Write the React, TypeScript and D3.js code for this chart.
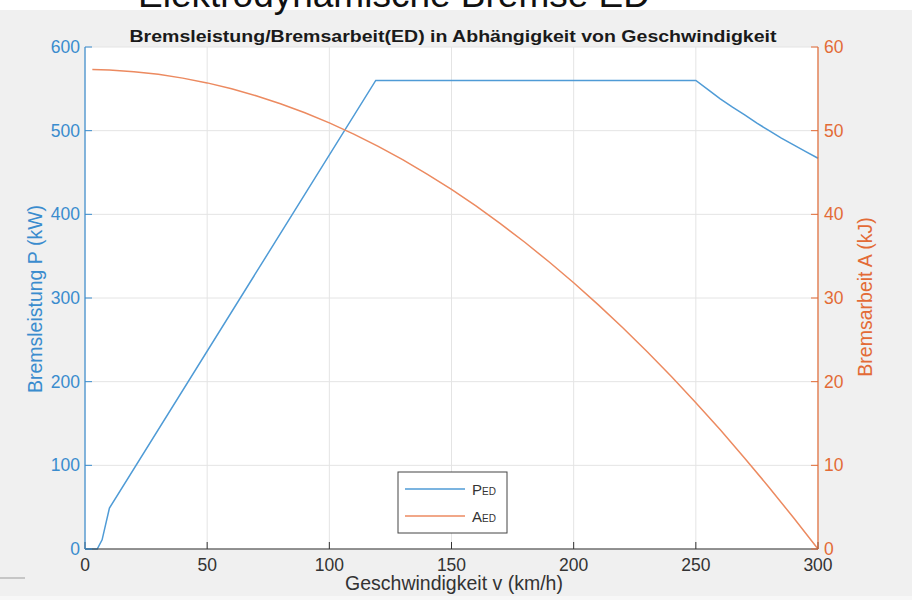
import React from "react";
import * as d3 from "d3";

const xTicks = [0, 50, 100, 150, 200, 250, 300];
const yLeftTicks = [0, 100, 200, 300, 400, 500, 600];
const yRightTicks = [0, 10, 20, 30, 40, 50, 60];

// P_ED (kW) vs speed (km/h)
const pSpeed = [0, 5, 7, 10, 119, 250, 255, 260, 265, 270, 275, 280, 285, 290, 295, 300];
const pValues = [0, 0, 11, 49, 560, 560, 549, 538, 528, 519, 509, 500, 491, 483, 475, 467];

// A_ED (kJ) vs speed (km/h)
const aSpeed = [3, 10, 20, 30, 40, 50, 60, 70, 80, 90, 100, 110, 120, 130, 140, 150, 160, 170, 180, 190, 200, 210, 220, 230, 240, 250, 260, 270, 280, 290, 300];
const aValues = [57.3, 57.24, 57.05, 56.73, 56.28, 55.71, 55.01, 54.18, 53.22, 52.14, 50.93, 49.59, 48.13, 46.53, 44.81, 42.97, 41.0, 38.89, 36.66, 34.3, 31.82, 29.21, 26.47, 23.6, 20.61, 17.49, 14.24, 10.86, 7.36, 3.73, 0];

const title = "Bremsleistung/Bremsarbeit(ED) in Abhängigkeit von Geschwindigkeit";
const suptitle = "Elektrodynamische Bremse ED";
const xLabel = "Geschwindigkeit v (km/h)";
const yLeftLabel = "Bremsleistung P (kW)";
const yRightLabel = "Bremsarbeit A (kJ)";

const W = 912, H = 600;
const L = 85, R = 818, T = 47, B = 549;
const BLUE_AX = "#3a8cce";
const BLUE_LN = "#4f9bd6";
const ORANGE_AX = "#e36b36";
const ORANGE_LN = "#ec8a60";
const DARK = "#333333";
const FONT = "'Liberation Sans', Arial, sans-serif";

export default function App() {
  const x = d3.scaleLinear().domain([0, 300]).range([L, R]);
  const yl = d3.scaleLinear().domain([0, 600]).range([B, T]);
  const yr = d3.scaleLinear().domain([0, 60]).range([B, T]);

  const pLine = d3.line<number>().x((_, i) => x(pSpeed[i])).y((d) => yl(d));
  const aLine = d3.line<number>().x((_, i) => x(aSpeed[i])).y((d) => yr(d));

  return (
    <svg width={W} height={H} style={{ position: "absolute", left: 0, top: 0 }} fontFamily={FONT}>
      <rect x={0} y={0} width={W} height={H} fill="#f0f0f0" />
      <rect x={0} y={0} width={W} height={10} fill="#ffffff" />
      <rect x={0} y={596} width={W} height={4} fill="#f7f7f7" />
      <text x={394} y={7} fontSize={37} textAnchor="middle" fill="#111">{suptitle}</text>
      <line x1={0} x2={25} y1={578} y2={578} stroke="#b8b8b8" strokeWidth={1.5} />

      <rect x={L} y={T} width={R - L} height={B - T} fill="#ffffff" />
      {/* grid */}
      {xTicks.map((t) => (
        <line key={"gx" + t} x1={x(t)} x2={x(t)} y1={T} y2={B} stroke="#e4e4e4" strokeWidth={1} />
      ))}
      {yLeftTicks.map((t) => (
        <line key={"gy" + t} x1={L} x2={R} y1={yl(t)} y2={yl(t)} stroke="#e4e4e4" strokeWidth={1} />
      ))}

      {/* lines */}
      <path d={pLine(pValues) || ""} fill="none" stroke={BLUE_LN} strokeWidth={1.5} />
      <path d={aLine(aValues) || ""} fill="none" stroke={ORANGE_LN} strokeWidth={1.5} />

      {/* bottom axis */}
      <line x1={L} x2={R} y1={B} y2={B} stroke={DARK} strokeWidth={1.2} />
      {xTicks.map((t) => (
        <g key={"xt" + t}>
          <line x1={x(t)} x2={x(t)} y1={B} y2={B - 7} stroke={DARK} strokeWidth={1} />
          <text x={x(t)} y={571} fontSize={17.5} textAnchor="middle" fill={DARK}>{t}</text>
        </g>
      ))}
      <text x={454} y={590} fontSize={19.5} textAnchor="middle" fill={DARK}>{xLabel}</text>

      {/* left axis */}
      <line x1={L} x2={L} y1={T} y2={B} stroke={BLUE_AX} strokeWidth={1.2} />
      {yLeftTicks.map((t) => (
        <g key={"yl" + t}>
          <line x1={L} x2={L + 7} y1={yl(t)} y2={yl(t)} stroke={BLUE_AX} strokeWidth={1} />
          <text x={80} y={yl(t) + 6} fontSize={17.5} textAnchor="end" fill={BLUE_AX}>{t}</text>
        </g>
      ))}
      <text transform={`translate(42,299) rotate(-90)`} fontSize={19.5} textAnchor="middle" fill={BLUE_AX}>{yLeftLabel}</text>

      {/* right axis */}
      <line x1={R} x2={R} y1={T} y2={B} stroke={ORANGE_AX} strokeWidth={1.2} />
      {yRightTicks.map((t) => (
        <g key={"yr" + t}>
          <line x1={R} x2={R - 7} y1={yr(t)} y2={yr(t)} stroke={ORANGE_AX} strokeWidth={1} />
          <text x={824} y={yr(t) + 6} fontSize={17.5} textAnchor="start" fill={ORANGE_AX}>{t}</text>
        </g>
      ))}
      <text transform={`translate(872,297) rotate(-90)`} fontSize={19.5} textAnchor="middle" fill={ORANGE_AX}>{yRightLabel}</text>

      {/* title */}
      <text x={453} y={42} fontSize={17} fontWeight="bold" textAnchor="middle" textLength={647} lengthAdjust="spacingAndGlyphs" fill="#1a1a1a">{title}</text>

      {/* legend */}
      <rect x={398} y={472} width={109} height={61} fill="#ffffff" stroke="#444" strokeWidth={1} />
      <line x1={405} x2={465} y1={489} y2={489} stroke={BLUE_LN} strokeWidth={1.5} />
      <text x={472} y={495} fontSize={15} fill={DARK}>P<tspan fontSize={10}>ED</tspan></text>
      <line x1={405} x2={465} y1={516} y2={516} stroke={ORANGE_LN} strokeWidth={1.5} />
      <text x={472} y={522} fontSize={15} fill={DARK}>A<tspan fontSize={10}>ED</tspan></text>
    </svg>
  );
}
